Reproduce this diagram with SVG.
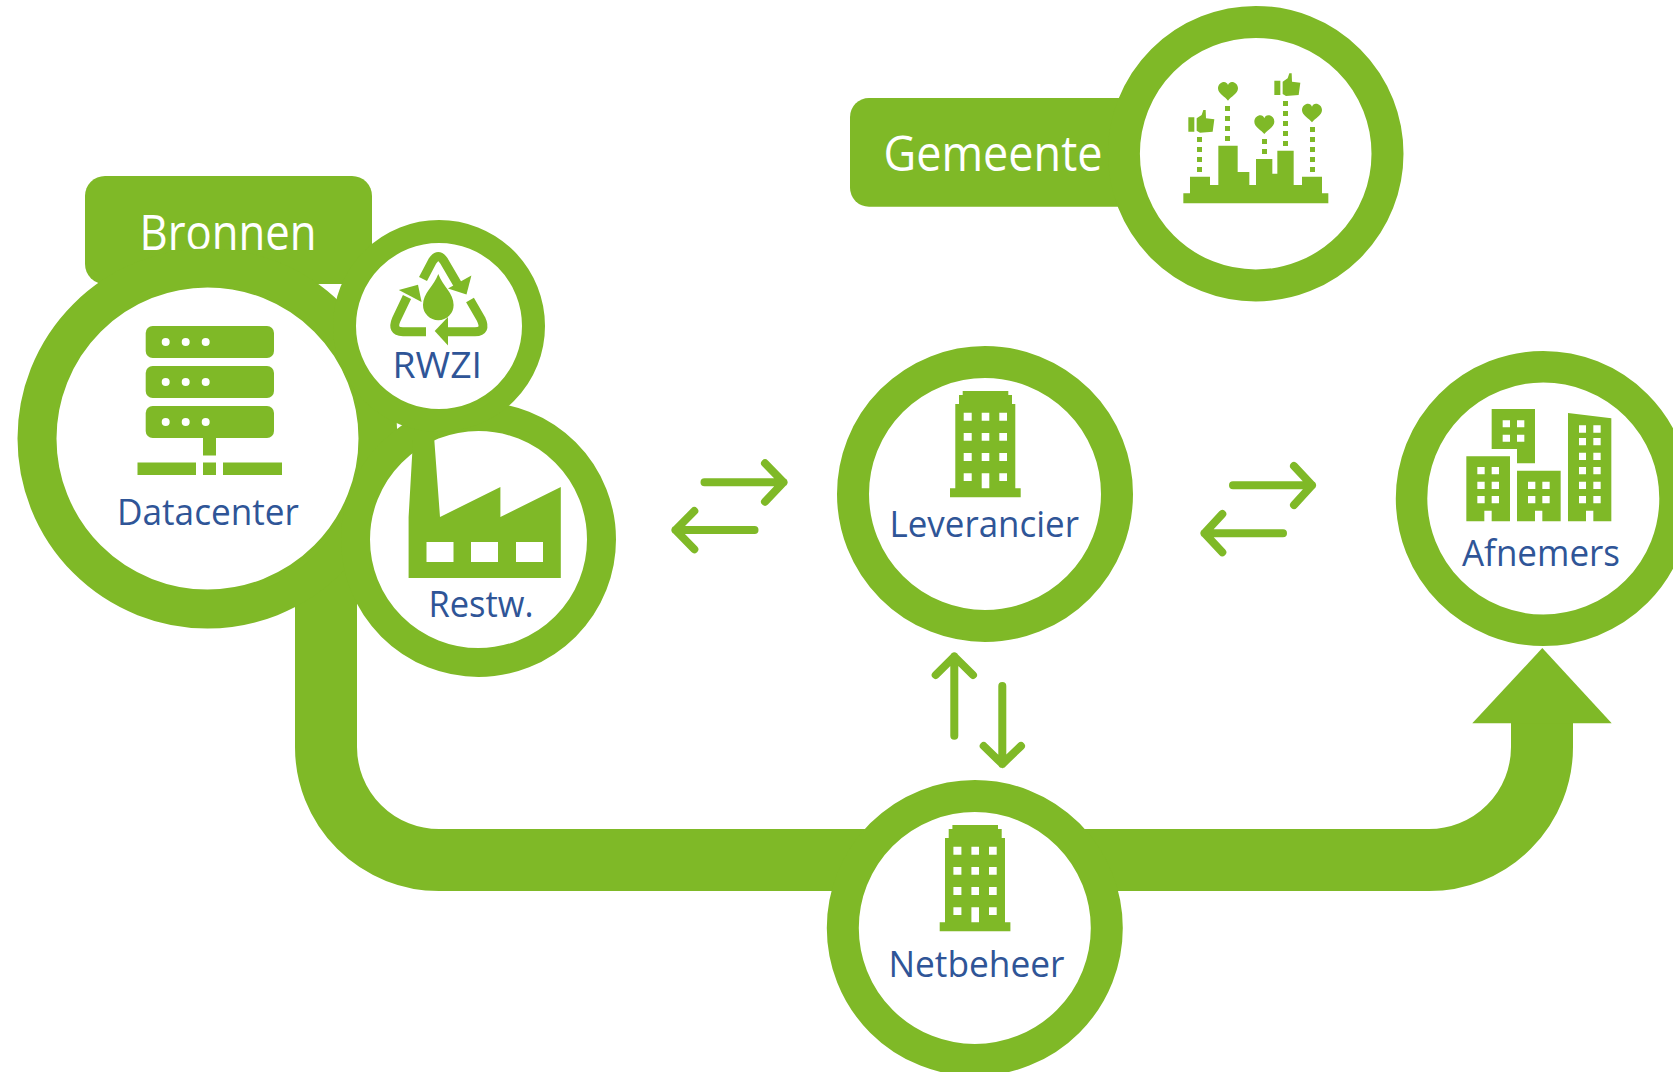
<svg xmlns="http://www.w3.org/2000/svg" width="1673" height="1072" viewBox="0 0 1673 1072">
<style>
.ring{fill:#fff;stroke:#7fb927}
.g{fill:#7fb927}
.w{fill:#fff}
.ar{fill:none;stroke:#7fb927;stroke-width:8;stroke-linecap:round;stroke-linejoin:round}
.rc{fill:none;stroke:#7fb927;stroke-width:9}
text{font-family:"Open Sans","Noto Sans","Liberation Sans",sans-serif}
.lb{fill:#2f5597;font-size:36.5px}
.hd{fill:#fff;font-size:49px;font-weight:400}
</style>
<defs>
<g id="tower">
<path class="g" d="M962.7 391H1008.3V395H1012V404H1015.3V488.3H1020.7V497.3H950V488.3H955.3V404H959V395H962.7Z"/>
<path class="w" d="M963.7 412.7h8v8h-8zM981.7 412.7h7.6v8h-7.6zM999.3 412.7h7.7v8h-7.7zM963.7 433h8v7.7h-8zM981.7 433h7.6v7.7h-7.6zM999.3 433h7.7v7.7h-7.7zM963.7 453h8v8h-8zM981.7 453h7.6v8h-7.6zM999.3 453h7.7v8h-7.7zM963.7 473.3h8v7.7h-8zM981.7 473.3h7.6v15h-7.6zM999.3 473.3h7.7v7.7h-7.7z"/>
</g>
<path id="heart" class="g" d="M0 29C-8 18-30 8-30-8C-30-20-20-27-12-27C-6-27-2-23 0-18C2-23 6-27 12-27C20-27 30-20 30-8C30 8 8 18 0 29Z"/>
<path id="thumb" class="g" d="M55 172H73V215H55ZM80 175L95 165L100 150L107 150L108 175L133 178L128 215L90 218L80 212Z"/>
</defs>
<g id="connectors">
<path d="M326 560V747A113 113 0 0 0 439 860H1429A113 113 0 0 0 1542 747V715" fill="none" stroke="#7fb927" stroke-width="62"/>
<path class="g" d="M1542.3 648L1611.7 723.3H1472.3Z"/>
<path class="ar" d="M704.5 482.3H783.5M765 463.3L783.5 482.3L765 501.7"/>
<path class="ar" d="M754.5 530H675.5M694.3 511L675.5 530L694.3 549.3"/>
<path class="ar" d="M1233 485.3H1312M1294 466L1312 485.3L1294 505"/>
<path class="ar" d="M1283 533.3H1204.5M1222.3 514L1204.5 533.3L1222.3 552.3"/>
<path class="ar" d="M954.3 735.7V656.5M935.7 675L954.3 656.5L973 675"/>
<path class="ar" d="M1002.3 686V764M983.7 746L1002.3 764L1021 746"/>
</g>
<g id="bronnen">
<rect class="g" x="85" y="176" width="287" height="108" rx="20"/>
<text class="hd" x="139.5" y="250" textLength="177" lengthAdjust="spacingAndGlyphs">Bronnen</text>
</g>
<g id="datacenter">
<circle class="ring" cx="207.5" cy="438.5" r="170.5" stroke-width="39"/>
<rect class="g" x="145.7" y="326" width="128.3" height="32" rx="7"/>
<rect class="g" x="145.7" y="366" width="128.3" height="32" rx="7"/>
<rect class="g" x="145.7" y="406" width="128.3" height="32" rx="7"/>
<path class="w" d="M161.7 342a4 4 0 1 0 8 0a4 4 0 1 0-8 0M181.7 342a4 4 0 1 0 8 0a4 4 0 1 0-8 0M201.7 342a4 4 0 1 0 8 0a4 4 0 1 0-8 0M161.7 382a4 4 0 1 0 8 0a4 4 0 1 0-8 0M181.7 382a4 4 0 1 0 8 0a4 4 0 1 0-8 0M201.7 382a4 4 0 1 0 8 0a4 4 0 1 0-8 0M161.7 422a4 4 0 1 0 8 0a4 4 0 1 0-8 0M181.7 422a4 4 0 1 0 8 0a4 4 0 1 0-8 0M201.7 422a4 4 0 1 0 8 0a4 4 0 1 0-8 0"/>
<path class="g" d="M203 436H216V455.5H203ZM137.5 462.4H196V475H137.5ZM203 462.4H216V475H203ZM223 462.4H282V475H223Z"/>
<text class="lb" x="117" y="525" textLength="182" lengthAdjust="spacingAndGlyphs">Datacenter</text>
</g>
<g id="restw">
<circle class="ring" cx="478.5" cy="539.5" r="123" stroke-width="29"/>
<path class="g" d="M408.6 578V517L413 440H434.3L440 517L500.4 487V517L560.8 487V578Z"/>
<path class="w" d="M426.5 542h27v20h-27zM471 542h27v20h-27zM516 542h27v20h-27z"/>
<text class="lb" x="428.5" y="616.5" textLength="105" lengthAdjust="spacingAndGlyphs">Restw.</text>
</g>
<g id="rwzi">
<circle class="ring" cx="439" cy="326" r="94.5" stroke-width="23"/>
<path class="g" d="M438.3 274C434 286 423 293 423 305A15.2 15.2 0 0 0 453.6 305C453.6 293 442.6 286 438.3 274Z"/>
<path class="rc" d="M423 279L432.5 261Q438.3 252 444 261L458 285"/>
<path class="g" d="M471.4 275.5L466.5 294.5L448 288.6Z"/>
<path class="rc" d="M426 331.7H403Q391 331.7 396.5 319L407 297"/>
<path class="g" d="M398.8 290L418 284.8L421.6 302Z"/>
<path class="rc" d="M470 300L481 319Q487 331.7 475 331.7H446"/>
<path class="g" d="M434.7 331L448 317V345.5Z"/>
<text class="lb" x="392.5" y="377.5" textLength="89.5" lengthAdjust="spacingAndGlyphs">RWZI</text>
</g>
<g id="gemeente">
<rect class="g" x="850" y="98" width="300" height="108.7" rx="19"/>
<text class="hd" x="883.5" y="171" textLength="219" lengthAdjust="spacingAndGlyphs">Gemeente</text>
<circle class="ring" cx="1255.7" cy="153.7" r="131.8" stroke-width="32"/>
<g transform="translate(1170 60) scale(.33333)">
<path class="g" d="M40 430V400H60V350H120V375H145V257H203V336H238V375H258V297H307V341H322V272H371V375H396V350H456V400H475V430Z"/>
<path class="g" d="M81 231h15v15h-15zM81 261h15v15h-15zM81 291h15v15h-15zM81 321h15v15h-15zM165 138h15v15h-15zM165 168h15v15h-15zM165 198h15v15h-15zM165 228h15v15h-15zM276 237h15v15h-15zM276 267h15v15h-15zM339 123h15v15h-15zM339 153h15v15h-15zM339 183h15v15h-15zM339 213h15v15h-15zM339 243h15v15h-15zM420 201h15v15h-15zM420 231h15v15h-15zM420 261h15v15h-15zM420 291h15v15h-15zM420 321h15v15h-15z"/>
<use href="#heart" x="174" y="93"/>
<use href="#heart" x="283" y="193"/>
<use href="#heart" x="426" y="158"/>
<use href="#thumb"/>
<use href="#thumb" x="258" y="-110"/>
</g>
</g>
<g id="leverancier">
<circle class="ring" cx="985" cy="494" r="132" stroke-width="32"/>
<use href="#tower"/>
<text class="lb" x="889.5" y="536.5" textLength="189.5" lengthAdjust="spacingAndGlyphs">Leverancier</text>
</g>
<g id="netbeheer">
<circle class="ring" cx="974.8" cy="928" r="132" stroke-width="32"/>
<use href="#tower" x="-10.3" y="434"/>
<text class="lb" x="888.5" y="977" textLength="176" lengthAdjust="spacingAndGlyphs">Netbeheer</text>
</g>
<g id="afnemers">
<circle class="ring" cx="1543.3" cy="498.5" r="131.75" stroke-width="31.5"/>
<g transform="translate(1380 340) scale(.33333)">
<path class="g" d="M335 207H465V370H411V327H335ZM259 349H390V544H335V512H313V544H259ZM411 392H542V544H487V512H465V544H411ZM564 219L694 235V544H640V512H618V544H564Z"/>
<path class="w" d="M368 241h22v21h-22zM411 241h22v21h-22zM368 284h22v21h-22zM411 284h22v21h-22zM292 381h22v22h-22zM335 381h22v22h-22zM292 425h22v22h-22zM335 425h22v22h-22zM292 468h22v22h-22zM335 468h22v22h-22zM444 425h22v22h-22zM487 425h22v22h-22zM444 468h22v22h-22zM487 468h22v22h-22zM597 256h21v22h-21zM640 256h22v22h-22zM597 294h21v22h-21zM640 294h22v22h-22zM597 338h21v22h-21zM640 338h22v22h-22zM597 381h21v22h-21zM640 381h22v22h-22zM597 425h21v22h-21zM640 425h22v22h-22zM597 468h21v22h-21zM640 468h22v22h-22z"/>
</g>
<text class="lb" x="1462" y="566" textLength="158" lengthAdjust="spacingAndGlyphs">Afnemers</text>
</g>
</svg>
